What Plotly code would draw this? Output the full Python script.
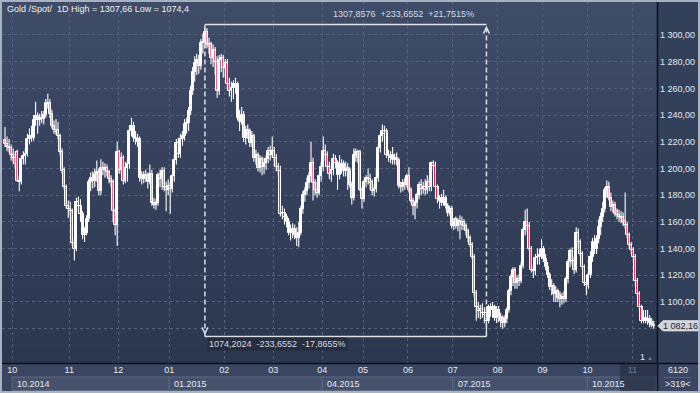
import plotly.graph_objects as go

# ---------------- DATA ----------------
title_text = "Gold /Spot/  1D High = 1307,66 Low = 1074,4"

# candles per calendar month (first entry = tail of Sep 2014, then Oct 2014 ... Nov 2015)
month_counts = [4, 28, 24, 25, 27, 24, 24, 20, 22, 22, 22, 22, 22, 22, 11]
month_labels = ["10", "11", "12", "01", "02", "03", "04", "05", "06", "07", "08", "09", "10", "11"]
quarter_labels = ["10.2014", "01.2015", "04.2015", "07.2015", "10.2015"]
quarter_month_pos = [0, 3, 6, 9, 12]

opens = [
    1221, 1218, 1216, 1215,
    1210, 1208, 1212, 1191, 1190, 1207, 1209, 1211, 1222, 1224, 1223, 1236, 1239, 1236, 1238, 1237, 1240, 1249, 1249, 1241, 1232, 1229, 1229, 1224, 1212, 1199, 1186, 1172,
    1170, 1168, 1144, 1140, 1175, 1172, 1166, 1150, 1152, 1162, 1190, 1193, 1191, 1196, 1197, 1183, 1200, 1199, 1200, 1197, 1192, 1190, 1168, 1158,
    1212, 1199, 1208, 1191, 1200, 1203, 1228, 1232, 1223, 1222, 1222, 1193, 1192, 1195, 1194, 1190, 1196, 1174, 1173, 1174, 1195, 1192, 1198, 1186, 1184,
    1187, 1185, 1194, 1206, 1219, 1211, 1222, 1224, 1233, 1234, 1243, 1258, 1272, 1279, 1281, 1277, 1294, 1295, 1302, 1293, 1293, 1283, 1289, 1280, 1258, 1281, 1283,
    1275, 1279, 1263, 1258, 1260, 1263, 1263, 1238, 1235, 1240, 1223, 1229, 1228, 1219, 1224, 1208, 1210, 1200, 1207, 1201, 1204, 1207, 1213, 1210,
    1213, 1208, 1201, 1198, 1166, 1167, 1164, 1160, 1152, 1153, 1155, 1150, 1148, 1152, 1170, 1180, 1183, 1189, 1194, 1204, 1189, 1184, 1182, 1194,
    1201, 1213, 1210, 1201, 1196, 1199, 1207, 1204, 1195, 1203, 1203, 1198, 1200, 1199, 1188, 1178, 1210, 1212, 1212, 1184,
    1177, 1190, 1193, 1192, 1190, 1183, 1185, 1193, 1215, 1224, 1228, 1228, 1210, 1209, 1210, 1206, 1208, 1206, 1187, 1186, 1189, 1188,
    1194, 1184, 1176, 1172, 1174, 1180, 1188, 1185, 1186, 1184, 1190, 1186, 1204, 1202, 1186, 1177, 1178, 1174, 1178, 1172, 1167, 1170,
    1157, 1162, 1157, 1161, 1160, 1160, 1157, 1153, 1148, 1143, 1134, 1107, 1096, 1093, 1095, 1092, 1092, 1086, 1096, 1094, 1096, 1088,
    1094, 1089, 1088, 1084, 1087, 1094, 1108, 1119, 1124, 1114, 1117, 1116, 1127, 1154, 1160, 1157, 1140, 1124, 1123, 1133, 1134, 1135,
    1140, 1132, 1126, 1120, 1111, 1112, 1106, 1108, 1105, 1102, 1104, 1102, 1117, 1130, 1138, 1131, 1124, 1152, 1145, 1136, 1126, 1114,
    1113, 1120, 1134, 1145, 1140, 1147, 1156, 1164, 1170, 1184, 1186, 1178, 1171, 1173, 1168, 1165, 1164, 1164, 1161, 1158, 1150, 1143,
    1139, 1134, 1116, 1106, 1096, 1086, 1088, 1086, 1087, 1085, 1083,
]
highs = [
    1231, 1224, 1222, 1218,
    1215, 1213, 1214, 1195, 1209, 1213, 1215, 1226, 1230, 1232, 1240, 1250, 1242, 1241, 1243, 1243, 1252, 1256, 1252, 1244, 1236, 1237, 1235, 1226, 1215, 1201, 1188, 1176,
    1175, 1170, 1148, 1178, 1179, 1177, 1168, 1156, 1165, 1192, 1197, 1198, 1200, 1206, 1200, 1207, 1205, 1204, 1203, 1199, 1195, 1192, 1170, 1220,
    1214, 1212, 1210, 1205, 1207, 1232, 1238, 1235, 1228, 1226, 1224, 1198, 1198, 1199, 1197, 1203, 1199, 1178, 1177, 1197, 1199, 1201, 1201, 1190, 1192,
    1190, 1196, 1210, 1222, 1223, 1226, 1228, 1237, 1238, 1246, 1262, 1276, 1284, 1286, 1285, 1297, 1301, 1307.66, 1305, 1298, 1295, 1293, 1291, 1284, 1285, 1286, 1285,
    1282, 1282, 1268, 1265, 1266, 1268, 1265, 1244, 1246, 1243, 1232, 1233, 1230, 1228, 1226, 1214, 1212, 1210, 1209, 1208, 1210, 1216, 1217, 1224,
    1216, 1211, 1204, 1202, 1172, 1170, 1166, 1163, 1158, 1159, 1158, 1156, 1160, 1172, 1183, 1186, 1193, 1197, 1220, 1208, 1192, 1190, 1196, 1205,
    1224, 1218, 1213, 1205, 1203, 1211, 1210, 1206, 1210, 1207, 1206, 1205, 1204, 1201, 1190, 1215, 1215, 1214, 1214, 1186,
    1192, 1195, 1200, 1196, 1192, 1188, 1200, 1218, 1226, 1233, 1232, 1230, 1214, 1213, 1216, 1211, 1212, 1208, 1190, 1192, 1193, 1196,
    1201, 1186, 1178, 1176, 1182, 1190, 1192, 1190, 1192, 1195, 1193, 1205, 1206, 1205, 1188, 1180, 1181, 1184, 1180, 1174, 1172, 1172,
    1163, 1164, 1163, 1165, 1164, 1162, 1159, 1155, 1150, 1145, 1136, 1109, 1100, 1098, 1099, 1096, 1095, 1098, 1099, 1100, 1098, 1097,
    1097, 1092, 1090, 1090, 1096, 1110, 1121, 1126, 1126, 1120, 1121, 1130, 1156, 1169, 1170, 1160, 1142, 1128, 1136, 1140, 1140, 1147,
    1142, 1136, 1130, 1122, 1117, 1114, 1112, 1110, 1108, 1107, 1108, 1119, 1132, 1140, 1141, 1134, 1156, 1155, 1147, 1138, 1128, 1120,
    1124, 1138, 1148, 1150, 1150, 1162, 1167, 1175, 1186, 1191, 1190, 1182, 1176, 1175, 1170, 1169, 1168, 1167, 1182, 1160, 1152, 1145,
    1141, 1136, 1118, 1108, 1098, 1094, 1094, 1094, 1090, 1088, 1086,
]
lows = [
    1216, 1213, 1212, 1206,
    1204, 1200, 1190, 1183, 1188, 1203, 1203, 1209, 1218, 1220, 1221, 1232, 1226, 1232, 1234, 1233, 1238, 1245, 1238, 1230, 1226, 1225, 1222, 1210, 1196, 1184, 1170, 1163,
    1164, 1142, 1131, 1138, 1168, 1160, 1147, 1145, 1150, 1160, 1183, 1185, 1186, 1190, 1180, 1180, 1195, 1193, 1194, 1189, 1186, 1160, 1150, 1142,
    1196, 1196, 1188, 1189, 1190, 1200, 1224, 1220, 1218, 1216, 1190, 1188, 1189, 1190, 1185, 1188, 1172, 1170, 1169, 1172, 1186, 1184, 1183, 1168, 1180,
    1166, 1182, 1190, 1203, 1208, 1208, 1217, 1221, 1226, 1228, 1240, 1255, 1265, 1270, 1271, 1274, 1286, 1290, 1290, 1286, 1278, 1276, 1270, 1253, 1255, 1272, 1268,
    1268, 1260, 1254, 1250, 1252, 1256, 1236, 1228, 1233, 1220, 1218, 1222, 1216, 1216, 1205, 1203, 1198, 1197, 1195, 1196, 1199, 1204, 1206, 1208,
    1202, 1198, 1195, 1164, 1162, 1158, 1156, 1150, 1146, 1148, 1147, 1142, 1141, 1150, 1166, 1175, 1180, 1185, 1190, 1176, 1180, 1178, 1180, 1190,
    1198, 1206, 1198, 1192, 1190, 1195, 1200, 1184, 1192, 1196, 1194, 1194, 1184, 1186, 1173, 1176, 1205, 1204, 1183, 1170,
    1175, 1186, 1188, 1184, 1180, 1179, 1182, 1190, 1212, 1220, 1222, 1208, 1205, 1204, 1203, 1203, 1202, 1185, 1182, 1183, 1184, 1186,
    1182, 1174, 1165, 1162, 1170, 1177, 1180, 1181, 1180, 1181, 1183, 1183, 1198, 1185, 1174, 1170, 1172, 1172, 1170, 1164, 1165, 1155,
    1154, 1155, 1153, 1147, 1154, 1154, 1150, 1145, 1141, 1132, 1104, 1086, 1088, 1087, 1088, 1084, 1074.4, 1084, 1089, 1088, 1086, 1084,
    1085, 1081, 1080, 1081, 1084, 1092, 1105, 1112, 1110, 1110, 1112, 1114, 1125, 1150, 1152, 1138, 1122, 1118, 1120, 1128, 1128, 1132,
    1130, 1124, 1118, 1109, 1105, 1100, 1100, 1100, 1096, 1098, 1099, 1100, 1114, 1126, 1128, 1121, 1122, 1140, 1134, 1124, 1112, 1105,
    1110, 1118, 1130, 1136, 1136, 1144, 1150, 1160, 1167, 1178, 1176, 1168, 1167, 1164, 1162, 1160, 1159, 1157, 1155, 1148, 1140, 1136,
    1132, 1112, 1104, 1094, 1084, 1084, 1084, 1083, 1081, 1081, 1080,
]
closes = [
    1218, 1216, 1215, 1210,
    1208, 1203, 1191, 1190, 1207, 1209, 1211, 1222, 1224, 1223, 1236, 1239, 1236, 1238, 1237, 1240, 1249, 1248, 1241, 1232, 1229, 1227, 1224, 1212, 1198, 1186, 1172, 1170,
    1168, 1144, 1140, 1175, 1172, 1166, 1150, 1152, 1162, 1190, 1193, 1191, 1196, 1197, 1183, 1200, 1199, 1200, 1197, 1192, 1190, 1168, 1158, 1212,
    1199, 1208, 1191, 1200, 1203, 1228, 1232, 1223, 1222, 1220, 1193, 1192, 1195, 1194, 1190, 1196, 1174, 1173, 1174, 1195, 1192, 1198, 1186, 1184, 1187,
    1185, 1194, 1206, 1219, 1211, 1222, 1224, 1233, 1234, 1243, 1258, 1272, 1279, 1281, 1277, 1294, 1295, 1302, 1293, 1292, 1283, 1289, 1280, 1258, 1281, 1283, 1275,
    1279, 1263, 1258, 1260, 1263, 1262, 1238, 1235, 1240, 1223, 1229, 1226, 1219, 1224, 1208, 1210, 1200, 1207, 1201, 1204, 1207, 1213, 1210, 1213,
    1208, 1201, 1198, 1166, 1167, 1164, 1160, 1152, 1153, 1155, 1150, 1148, 1152, 1170, 1180, 1183, 1189, 1194, 1204, 1189, 1184, 1182, 1194, 1201,
    1213, 1210, 1201, 1196, 1199, 1207, 1204, 1195, 1203, 1201, 1198, 1200, 1199, 1188, 1178, 1210, 1212, 1208, 1184, 1177,
    1190, 1193, 1192, 1189, 1183, 1185, 1193, 1215, 1224, 1228, 1226, 1210, 1209, 1208, 1206, 1208, 1206, 1187, 1186, 1189, 1188, 1194,
    1184, 1176, 1172, 1174, 1180, 1188, 1185, 1186, 1184, 1190, 1186, 1204, 1202, 1186, 1177, 1176, 1174, 1178, 1172, 1167, 1170, 1157,
    1160, 1157, 1161, 1160, 1158, 1157, 1153, 1148, 1143, 1134, 1107, 1096, 1093, 1095, 1092, 1090, 1086, 1096, 1094, 1096, 1088, 1094,
    1089, 1086, 1084, 1087, 1094, 1108, 1119, 1124, 1114, 1117, 1116, 1127, 1154, 1160, 1157, 1140, 1124, 1123, 1133, 1134, 1135, 1140,
    1132, 1126, 1120, 1111, 1112, 1106, 1108, 1103, 1102, 1104, 1102, 1117, 1130, 1138, 1131, 1124, 1152, 1145, 1136, 1126, 1114, 1113,
    1120, 1134, 1145, 1140, 1147, 1156, 1164, 1170, 1184, 1186, 1178, 1171, 1173, 1166, 1165, 1164, 1163, 1160, 1158, 1150, 1143, 1139,
    1134, 1116, 1106, 1096, 1086, 1088, 1086, 1087, 1084, 1083, 1082.16,
]

price_ticks = [1080, 1100, 1120, 1140, 1160, 1180, 1200, 1220, 1240, 1260, 1280, 1300]
# the 1 080,00 label is hidden behind the last-price tag in the reference
price_tick_labels = ["", "1 100,00", "1 120,00", "1 140,00", "1 160,00", "1 180,00",
                     "1 200,00", "1 220,00", "1 240,00", "1 260,00", "1 280,00", "1 300,00"]

measure_high = 1307.8576
measure_low = 1074.2024
measure_top_text = "1307,8576  +233,6552  +21,7515%"
measure_bottom_text = "1074,2024  -233,6552  -17,8655%"
last_price_text = "1 082,16"
bars_total_text = "6120"
bars_visible_text = ">319<"

# ---------------- derived ----------------
N = len(closes)
assert len(opens) == len(highs) == len(lows) == N == sum(month_counts)
idx = list(range(N))
month_starts = []
acc = 0
for c in month_counts[:-1]:
    acc += c
    month_starts.append(acc)
quarter_starts = [month_starts[p] for p in quarter_month_pos]
hi_idx = max(idx, key=lambda i: highs[i])
lo_idx = min(idx, key=lambda i: lows[i])

# ---------------- geometry / style ----------------
W, H = 700, 393
PL, PR, PT, PB = 2, 657, 2, 363
FIRST_PX, STEP_PX = 5.0, 2.04
x_range = [(PL - FIRST_PX) / STEP_PX, (PR - FIRST_PX) / STEP_PX]
y_range = [1054.3, 1324.7]
FONT = "Liberation Sans, Arial, sans-serif"
WHITE = "#ffffff"
RED = "#e8083a"
TXT = "#e3e8ef"
FS = 9


def px(v):
    return v / W


def py(v):
    return 1 - v / H


wick_x, wick_y = [], []
for i in idx:
    wick_x += [i, i, None]
    wick_y += [lows[i], highs[i], None]

body_base = [min(o, c) for o, c in zip(opens, closes)]
body_h = [max(abs(c - o), 0.6) for o, c in zip(opens, closes)]
body_col = [WHITE if c >= o else RED for o, c in zip(opens, closes)]

fig = go.Figure()
fig.add_trace(go.Scatter(x=wick_x, y=wick_y, mode="lines",
                         line=dict(color=WHITE, width=1.1), hoverinfo="skip", showlegend=False))
fig.add_trace(go.Bar(x=idx, y=body_h, base=body_base, width=1.0,
                     marker=dict(color=body_col, line=dict(color=WHITE, width=1)),
                     hoverinfo="skip", showlegend=False))

shapes = []
# panels
shapes.append(dict(type="rect", xref="paper", yref="paper", x0=0, x1=1, y0=0, y1=py(PB),
                   fillcolor="#3a4661", line_width=0, layer="below"))
shapes.append(dict(type="rect", xref="paper", yref="paper", x0=px(PR), x1=1, y0=py(PB), y1=1,
                   fillcolor="#33405a", line_width=0, layer="below"))
# gradient plot background
top_c = (63, 76, 104)
bot_c = (43, 54, 79)
nb = 24
for b in range(nb):
    t = b / (nb - 1)
    col = tuple(round(top_c[k] + (bot_c[k] - top_c[k]) * t) for k in range(3))
    y0 = PT + (PB - PT) * b / nb
    y1 = PT + (PB - PT) * (b + 1) / nb
    shapes.append(dict(type="rect", xref="paper", yref="paper", x0=px(PL), x1=px(PR),
                       y0=py(y1 + 0.5), y1=py(y0), fillcolor="rgb(%d,%d,%d)" % col,
                       line_width=0, layer="below"))
# quarter boxes in bottom panel
q_edges = quarter_starts + [x_range[1]]
for k in range(len(quarter_starts)):
    shapes.append(dict(type="rect", xref="x", yref="paper",
                       x0=q_edges[k] - 0.5, x1=q_edges[k + 1] - 0.5,
                       y0=py(390.5), y1=py(377), fillcolor="#46526c",
                       line=dict(color="#5e6a83", width=1), layer="below"))
# highlighted current month in axis
shapes.append(dict(type="rect", xref="paper", yref="paper", x0=px(620), x1=px(656),
                   y0=py(391), y1=py(364.5), fillcolor="rgba(34,43,63,0.62)",
                   line_width=0, layer="above"))
# separators
shapes.append(dict(type="line", xref="paper", yref="paper", x0=px(657.5), x1=px(657.5),
                   y0=0, y1=1, line=dict(color="#0c0f16", width=1.5), layer="above"))
shapes.append(dict(type="line", xref="paper", yref="paper", x0=0, x1=1,
                   y0=py(363.5), y1=py(363.5), line=dict(color="#0c0f16", width=1.5), layer="above"))
shapes.append(dict(type="line", xref="paper", yref="paper", x0=px(664), x1=px(691),
                   y0=py(377.5), y1=py(377.5), line=dict(color="#5a6680", width=1), layer="above"))
# outer frame
shapes.append(dict(type="rect", xref="paper", yref="paper", x0=px(1), x1=px(699),
                   y0=py(392), y1=py(1), line=dict(color="#a7b1c1", width=2), layer="above"))

# measurement tool
MC = "#dde1e6"
shapes.append(dict(type="line", xref="x", yref="y", x0=hi_idx, x1=lo_idx,
                   y0=measure_high, y1=measure_high, line=dict(color=MC, width=1.5), layer="above"))
shapes.append(dict(type="line", xref="x", yref="y", x0=hi_idx, x1=lo_idx,
                   y0=measure_low, y1=measure_low, line=dict(color=MC, width=1.5), layer="above"))
for xx in (hi_idx, lo_idx):
    shapes.append(dict(type="line", xref="x", yref="y", x0=xx, x1=xx,
                       y0=measure_low, y1=measure_high,
                       line=dict(color=MC, width=1.5, dash="5px,3px"), layer="above"))
shapes.append(dict(type="path", xref="x", yref="y", xsizemode="pixel", ysizemode="pixel",
                   xanchor=lo_idx, yanchor=measure_high, path="M -3,-9 L 0,-3 L 3,-9",
                   line=dict(color=MC, width=1.5), layer="above"))
shapes.append(dict(type="path", xref="x", yref="y", xsizemode="pixel", ysizemode="pixel",
                   xanchor=hi_idx, yanchor=measure_low, path="M -3,9 L 0,3 L 3,9",
                   line=dict(color=MC, width=1.5), layer="above"))
# last price tag
shapes.append(dict(type="path", xref="paper", yref="y", ysizemode="pixel", yanchor=closes[-1],
                   path="M %f,0 L %f,5 L %f,5 L %f,-5 L %f,-5 Z" % (px(658), px(663), px(698), px(698), px(663)),
                   fillcolor="#cfd3d9", line=dict(color="#e9ecef", width=1), layer="above"))

annotations = []
annotations.append(dict(text=title_text, xref="paper", yref="paper", x=px(5), y=py(9),
                        xanchor="left", yanchor="middle", showarrow=False,
                        font=dict(family=FONT, size=FS, color="#eef1f5")))
annotations.append(dict(text=measure_top_text, xref="x", yref="y", x=lo_idx, y=measure_high,
                        xanchor="right", yanchor="middle", xshift=-10, yshift=10, showarrow=False,
                        font=dict(family=FONT, size=FS, color="#d6dbe2")))
annotations.append(dict(text=measure_bottom_text, xref="x", yref="y", x=hi_idx, y=measure_low,
                        xanchor="left", yanchor="middle", xshift=2, yshift=-8, showarrow=False,
                        bgcolor="rgba(37,45,64,0.95)", borderpad=1,
                        font=dict(family=FONT, size=FS, color="#d6dbe2")))
for qs, ql in zip(quarter_starts, quarter_labels):
    annotations.append(dict(text=ql, xref="x", yref="paper", x=qs - 0.5, y=py(384),
                            xanchor="left", yanchor="middle", xshift=3, showarrow=False,
                            font=dict(family=FONT, size=FS, color=TXT)))
annotations.append(dict(text=bars_total_text, xref="paper", yref="paper", x=px(678), y=py(370),
                        xanchor="center", yanchor="middle", showarrow=False,
                        font=dict(family=FONT, size=FS, color=TXT)))
annotations.append(dict(text=bars_visible_text, xref="paper", yref="paper", x=px(678), y=py(384),
                        xanchor="center", yanchor="middle", showarrow=False,
                        font=dict(family=FONT, size=FS, color=TXT)))
annotations.append(dict(text="1", xref="paper", yref="paper", x=px(642), y=py(357),
                        xanchor="center", yanchor="middle", showarrow=False,
                        font=dict(family=FONT, size=FS, color=TXT)))
annotations.append(dict(text="▲", xref="paper", yref="paper", x=px(650), y=py(357.5),
                        xanchor="center", yanchor="middle", showarrow=False,
                        font=dict(family=FONT, size=6, color="#6e7a91")))
annotations.append(dict(text=last_price_text, xref="paper", yref="y", x=px(680), y=closes[-1],
                        xanchor="center", yanchor="middle", showarrow=False,
                        font=dict(family=FONT, size=FS, color="#262a30")))

fig.update_layout(
    width=W, height=H, autosize=False,
    margin=dict(l=0, r=0, t=0, b=0),
    paper_bgcolor="#3a4661", plot_bgcolor="rgba(0,0,0,0)",
    bargap=0, showlegend=False,
    shapes=shapes, annotations=annotations,
    font=dict(family=FONT, size=FS, color=TXT),
    xaxis=dict(domain=[px(PL), px(PR)], range=x_range, tickmode="array",
               tickvals=[m - 0.5 for m in month_starts], ticktext=month_labels,
               showgrid=True, gridcolor="#56637d", griddash="3px,3px", gridwidth=1,
               zeroline=False, showline=False, ticks="", fixedrange=True,
               tickfont=dict(family=FONT, size=FS, color=TXT)),
    yaxis=dict(domain=[py(PB), py(PT)], range=y_range, side="right", tickmode="array",
               tickvals=price_ticks, ticktext=price_tick_labels,
               showgrid=True, gridcolor="#56637d", griddash="3px,3px", gridwidth=1,
               zeroline=False, showline=False, ticks="", fixedrange=True,
               ticklabelstandoff=2,
               tickfont=dict(family=FONT, size=FS, color=TXT)),
)

fig.write_html("out.html", config={"displayModeBar": False},
               post_script="document.body.style.margin='0';document.body.style.padding='0';"
                           "document.documentElement.style.overflow='hidden';")
